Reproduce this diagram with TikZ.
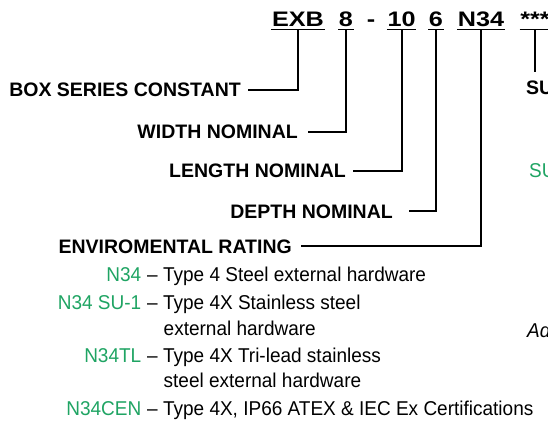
\documentclass[tikz,border=0pt]{standalone}
\usepackage{fontspec}
\setmainfont{Liberation Sans}
\newfontfamily\codefont[FakeStretch=1.2]{Liberation Sans}
\newfontfamily\ratefont[FakeStretch=0.95]{Liberation Sans}
\definecolor{ratingGreen}{HTML}{1FA463}

\begin{document}
\begin{tikzpicture}[x=1pt,y=-1pt,
  code/.style={font=\codefont\bfseries\fontsize{21}{21}\selectfont,anchor=base,inner xsep=0.5pt,inner ysep=2.5pt,text depth=0pt},
  field/.style={font=\bfseries\fontsize{19.5}{19.5}\selectfont,anchor=base east,inner ysep=0pt,inner xsep=#1,text depth=0pt},
  field/.default=8pt,
  rating/.style={font=\ratefont\fontsize{20}{20}\selectfont,inner sep=0pt},
  ratecode/.style={rating,text=ratingGreen,anchor=base east},
  ratetext/.style={rating,anchor=base west},
  lead/.style={draw=black,line width=1.8pt},
  uline/.style={draw=black,line width=1.4pt}]
  \useasboundingbox (0,0) rectangle (548,422);
  \clip (0,0) rectangle (548,422);

  % catalogue number
  \node[code] (exb) at (298,27) {EXB};
  \node[code] (wcode) at (346,27) {8};
  \node[code] (hyph) at (371,27) {-};
  \node[code] (lcode) at (401.7,27) {10};
  \node[code] (dcode) at (436,27) {6};
  \node[code] (ecode) at (481,27) {N34};
  \node[code] (stars) at (535,27) {***};
  \foreach \c in {exb,wcode,lcode,dcode,ecode,stars}
    \draw[uline] (\c.south west) -- (\c.south east);

  % field names
  \node[field=7pt] (boxser) at (248,96.5) {BOX SERIES CONSTANT};
  \node[field=10pt] (width) at (308,138.5) {WIDTH NOMINAL};
  \node[field=7pt] (length) at (353,178) {LENGTH NOMINAL};
  \node[field=16pt] (depth) at (409,218) {DEPTH NOMINAL};
  \node[field=9pt] (envrat) at (301,253) {ENVIROMENTAL RATING};
  \node[field=0pt,anchor=base west] (suffix) at (526,95) {SU};
  \coordinate (sufoot) at (535,72);

  \draw[lead] (boxser.east) -| (exb.south);
  \draw[lead] (width.east) -| (wcode.south);
  \draw[lead] (length.east) -| (lcode.south);
  \draw[lead] (depth.east) -| (dcode.south);
  \draw[lead] (envrat.east) -| (ecode.south);
  \draw[lead] (stars.south) -- (sufoot);

  % rating options
  \node[ratecode] (r1code) at (141.5,281) {N34};
  \node[ratetext] (r1text) at (147,281) {– Type 4 Steel external hardware};
  \node[ratecode] (r2code) at (141.5,309) {N34 SU-1};
  \node[ratetext] (r2text) at (147,309) {– Type 4X Stainless steel};
  \node[ratetext] (r2more) at (163.5,335) {external hardware};
  \node[ratecode] (r3code) at (141.5,362.5) {N34TL};
  \node[ratetext] (r3text) at (147,362.5) {– Type 4X Tri-lead stainless};
  \node[ratetext] (r3more) at (163.5,387) {steel external hardware};
  \node[ratecode] (r4code) at (141.5,415) {N34CEN};
  \node[ratetext] (r4text) at (147,415) {– Type 4X, IP66 ATEX \& IEC Ex Certifications};

  % cut off at the right edge
  \node[ratetext,text=ratingGreen] (suopt) at (529,177) {SU};
  \node[ratetext,font=\ratefont\itshape\fontsize{20}{20}\selectfont] (addnote) at (527,337) {Ad};
\end{tikzpicture}
\end{document}
